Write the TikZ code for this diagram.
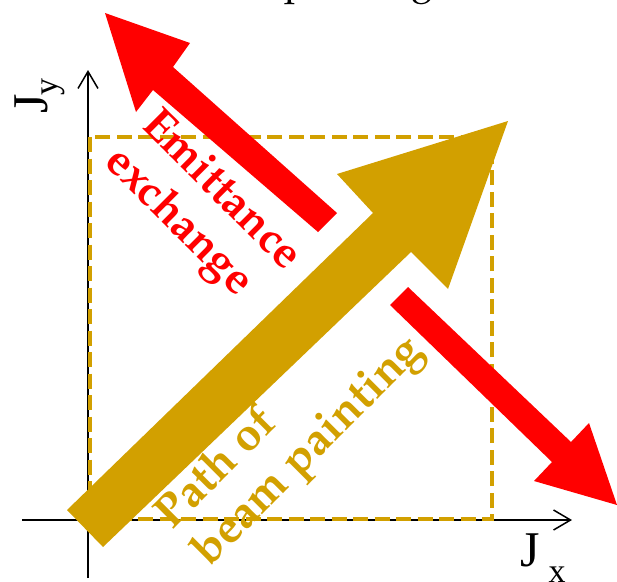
\documentclass[tikz,border=0pt]{standalone}
\usepackage[T1]{fontenc}
\usepackage{fontspec}
\setmainfont{Liberation Serif}
\usetikzlibrary{arrows.meta}
\definecolor{gold}{RGB}{210,160,0}
\definecolor{pred}{RGB}{255,0,0}
\newcommand\palbold{\fontencoding{T1}\fontfamily{ppl}\fontseries{b}\selectfont}
\newcommand\palreg{\fontencoding{T1}\fontfamily{ppl}\fontseries{m}\selectfont}
\newcommand\subtxt[3]{\kern#1\raisebox{#2}{\fontsize{34}{34}\selectfont #3}}
\tikzset{
  axis/.style={line width=1.5pt, -{Straight Barb[length=17pt,width=20pt]}},
  region/.style={gold, line width=4pt, dash pattern=on 15pt off 6.5pt},
  redlbl/.style={pred, inner sep=0pt, rotate=-45, anchor=base west, font=\palbold\fontsize{45}{52}\selectfont},
  goldlbl/.style={gold, inner sep=0pt, rotate=45, anchor=base west, font=\palbold\fontsize{46}{52}\selectfont},
  axlbl/.style={inner sep=0pt, anchor=base west, font=\fontsize{50}{56}\selectfont}
}
\begin{document}
\begin{tikzpicture}[x=1pt,y=-1pt]
\path[use as bounding box, clip] (0,0) rectangle (617,581);
% title (clipped)
\node[inner sep=0pt, anchor=base west, font=\palreg\fontsize{40}{46}\selectfont] (title) at (284,-7) {\llap{Correlated\ }painting};
% axes
\coordinate (xs) at (22,520); \coordinate (xe) at (572,520);
\coordinate (ys) at (88,578); \coordinate (ye) at (88,70);
\draw[axis] (xs) -- (xe);
\draw[axis] (ys) -- (ye);
% dashed region
\draw[region] (90,137) rectangle (492,519);
% gold arrow
\fill[gold] (67,510) -- (103,547) -- (411,252) -- (448,289) -- (508,121) -- (337,174) -- (373,213) -- cycle;
% red arrows
\fill[pred] (337,213) -- (318,232) -- (153,90) -- (136,112) -- (105,13) -- (190,43) -- (173,67) -- cycle;
\fill[pred] (408,287) -- (390,305) -- (552,462) -- (534,481) -- (617,505) -- (589,423) -- (571,442) -- cycle;
% labels
\node[redlbl] (em1) at (140,126) {Emittance};
\node[redlbl] (em2) at (103,163) {exchange};
\node[goldlbl] (pa1) at (172,531) {Path of};
\node[goldlbl] (pa2) at (209,568) {beam painting};
\node[axlbl, rotate=90] (jy) at (47,114) {J\subtxt{-1pt}{-10pt}{y}};
\node[axlbl] (jx) at (520,566) {J\subtxt{9pt}{-16pt}{x}};
\end{tikzpicture}
\end{document}
